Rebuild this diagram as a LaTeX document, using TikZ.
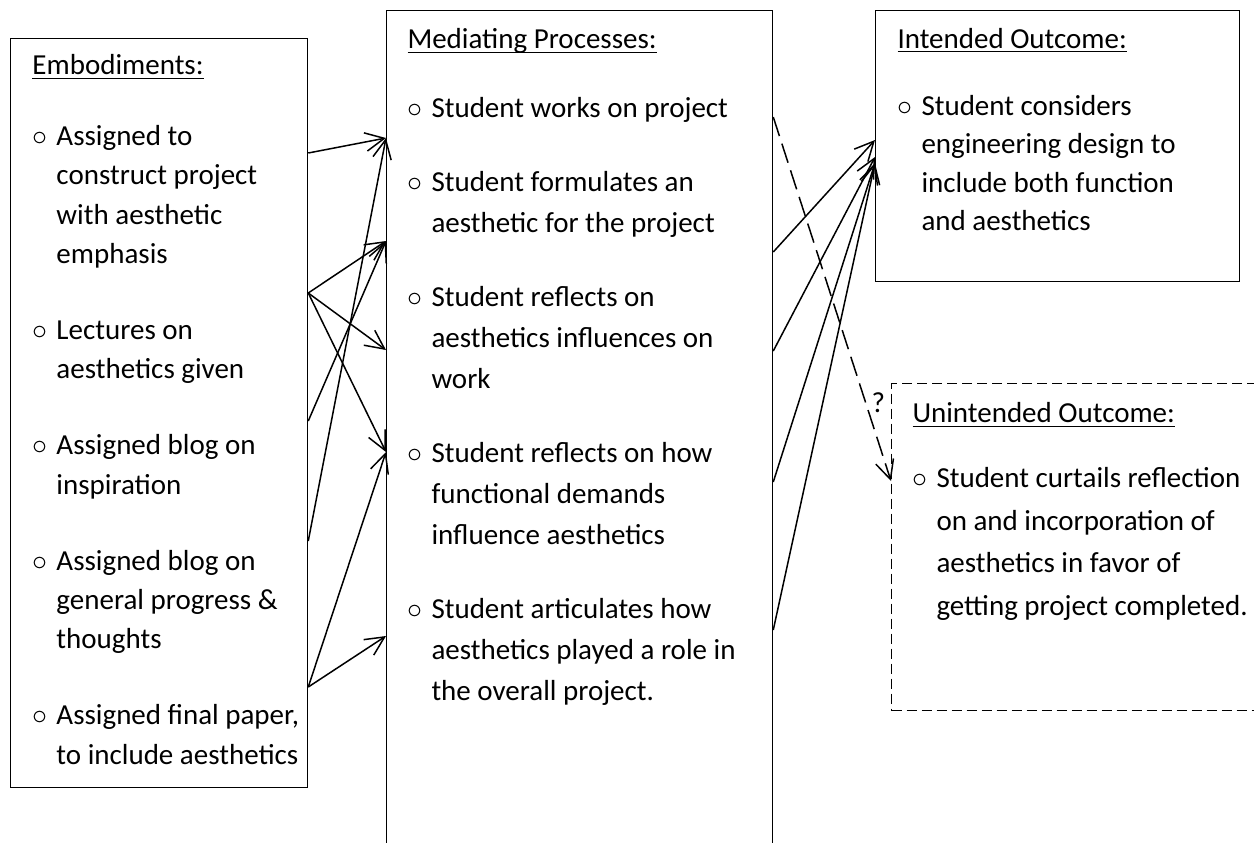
\documentclass[tikz,border=0pt]{standalone}
\usepackage{fontspec}
\setmainfont{Carlito}
\usetikzlibrary{arrows.meta}

\newcommand{\bul}{\makebox[9.6pt][l]{\fontsize{13pt}{13pt}\selectfont$\circ$}}
\newcommand{\ind}{\hspace*{9.6pt}}
\newcommand{\hd}[1]{\strut$\underline{\smash{\hbox{#1}}}$}

\tikzset{
  box/.style={draw, line width=0.5pt, inner sep=0pt, anchor=north west},
  txt/.style={inner sep=0pt, anchor=north west, align=left,
    font=\fontsize{11.6pt}{15.72pt}\selectfont},
  link/.style={line width=0.6pt, -{Straight Barb[length=7.6pt,width=7.4pt]}},
}

\begin{document}
\begin{tikzpicture}[x=0.4pt, y=-0.4pt]
  %tikz  embodiments, processes, outcomes
    \useasboundingbox (0,0) rectangle (1254,842);
    \clip (0,0) rectangle (1254,842);
    \node[box, minimum width=118.8pt, minimum height=299.6pt] (emb) at (10,38) {};
    \node[box, minimum width=154.4pt, minimum height=348pt] (mid) at (386,10) {};
    \node[box, minimum width=145.6pt, minimum height=108.4pt] (intd) at (875,10) {};
    \node[box, dash pattern=on 4pt off 2pt, minimum width=151.6pt, minimum height=130.8pt] (unint) at (891,383) {};
    \node[txt] (embtxt) at (32,46.5) {\hd{Embodiments:}\\[12.7pt]
      \bul Assigned to\\ \ind construct project\\ \ind with aesthetic\\ \ind emphasis\\[14.7pt]
      \bul Lectures on\\ \ind aesthetics given\\[14.7pt]
      \bul Assigned blog on\\ \ind inspiration\\[14.7pt]
      \bul Assigned blog on\\ \ind general progress \&\\ \ind thoughts\\[14.7pt]
      \bul Assigned final paper,\\ \ind to include aesthetics};
    \node[txt, font=\fontsize{11.6pt}{16.4pt}\selectfont] (midtxt) at (407,19.3) {\hd{Mediating Processes:}\\[11.2pt]
      \bul Student works on project\\[13.2pt]
      \bul Student formulates an\\ \ind aesthetic for the project\\[13.2pt]
      \bul Student reflects on\\ \ind aesthetics influences on\\ \ind work\\[13.2pt]
      \bul Student reflects on how\\ \ind functional demands\\ \ind influence aesthetics\\[13.2pt]
      \bul Student articulates how\\ \ind aesthetics played a role in\\ \ind the overall project.};
    \node[txt, font=\fontsize{11.6pt}{15.4pt}\selectfont] (intdtxt) at (897,21) {\hd{Intended Outcome:}\\[11.4pt]
      \bul Student considers\\ \ind engineering design to\\ \ind include both function\\ \ind and aesthetics};
    \node[txt, font=\fontsize{11.6pt}{17pt}\selectfont] (uninttxt) at (912,392.25) {\hd{Unintended Outcome:}\\[9pt]
      \bul Student curtails reflection\\ \ind on and incorporation of\\ \ind aesthetics in favor of\\ \ind getting project completed.};
    % embodiments to processes
    \draw[link] (emb.east |- 0,153) -- (mid.west |- 0,138);
    \foreach \y in {241,350,452}
      \draw[link] (emb.east |- 0,293) -- (mid.west |- 0,\y);
    \draw[link] (emb.east |- 0,421) -- (mid.west |- 0,241);
    \draw[link] (emb.east |- 0,541) -- (mid.west |- 0,138);
    \foreach \y in {452,636}
      \draw[link] (emb.east |- 0,687) -- (mid.west |- 0,\y);
    % processes to outcomes
    \draw[link] (mid.east |- 0,252) -- (intd.west |- 0,140);
    \draw[link] (mid.east |- 0,351) -- (intd.west |- 0,157);
    \draw[link] (mid.east |- 0,482) -- (intd.west |- 0,163);
    \draw[link] (mid.east |- 0,630) -- (intd.west |- 0,163);
    \draw[link, dash pattern=on 8pt off 3.2pt] (mid.east |- 0,117) --
      node[pos=0.786, right, inner sep=2pt, font=\fontsize{11.6pt}{15.72pt}\selectfont] (qm) {?}
      (unint.west |- 0,481);
  \end{tikzpicture}
\end{document}
